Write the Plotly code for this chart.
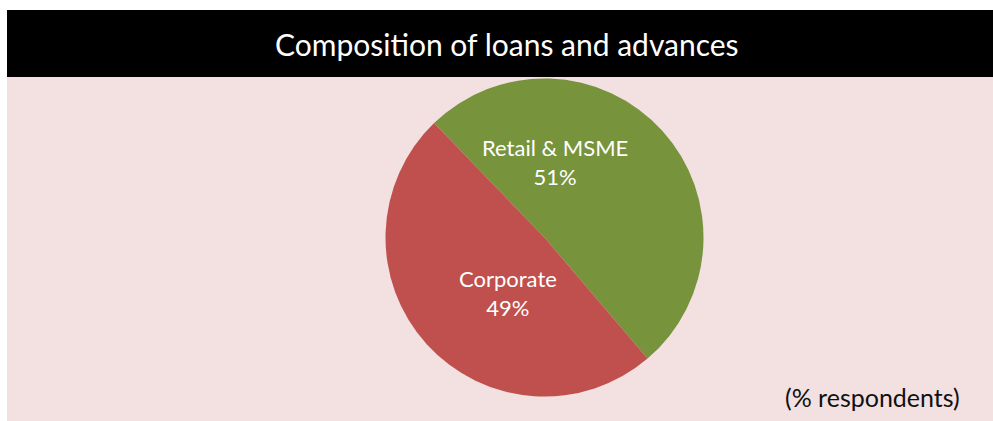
import plotly.graph_objects as go

# Loan book composition
segments = ["Retail & MSME", "Corporate"]
shares = [51, 49]
slice_colors = ["#77933C", "#C0504D"]

title_text = "Composition of loans and advances"
note_text = "(% respondents)"

W, H = 993, 421
cx, cy, r = 544.5, 237.5, 159

fig = go.Figure(
    go.Pie(
        labels=segments,
        values=shares,
        sort=False,
        direction="clockwise",
        rotation=-44,
        marker=dict(colors=slice_colors, line=dict(width=0)),
        textinfo="none",
        hoverinfo="label+percent",
        showlegend=False,
        domain=dict(
            x=[(cx - r) / W, (cx + r) / W],
            y=[1 - (cy + r) / H, 1 - (cy - r) / H],
        ),
    )
)

# data label anchor points inside each slice (pixels from top-left)
label_spots = [(555, 162), (508, 293)]

shapes = [
    # pink chart panel
    dict(type="rect", xref="paper", yref="paper", x0=7 / W, x1=1, y0=0, y1=1 - 77 / H,
         fillcolor="#F3E0E0", line=dict(width=0), layer="below"),
    # black title bar
    dict(type="rect", xref="paper", yref="paper", x0=7 / W, x1=1, y0=1 - 77 / H, y1=1 - 10 / H,
         fillcolor="#000000", line=dict(width=0), layer="below"),
]

annotations = [
    dict(text=title_text, xref="paper", yref="paper", x=507 / W, y=1 - 44 / H,
         xanchor="center", yanchor="middle", showarrow=False,
         font=dict(family="Lato", size=30, color="white")),
    dict(text=note_text, xref="paper", yref="paper", x=962 / W, y=1 - 397 / H,
         xanchor="right", yanchor="middle", showarrow=False,
         font=dict(family="Lato", size=25, color="#111111")),
]

for seg, share, (px, py) in zip(segments, shares, label_spots):
    annotations.append(
        dict(text=f"{seg}<br>{share}%", xref="paper", yref="paper",
             x=px / W, y=1 - py / H, xanchor="center", yanchor="middle",
             showarrow=False, align="center",
             font=dict(family="Lato", size=22, color="white"))
    )

fig.update_layout(
    width=W,
    height=H,
    margin=dict(l=0, r=0, t=0, b=0),
    paper_bgcolor="white",
    shapes=shapes,
    annotations=annotations,
)

fig.write_html("out.html")
